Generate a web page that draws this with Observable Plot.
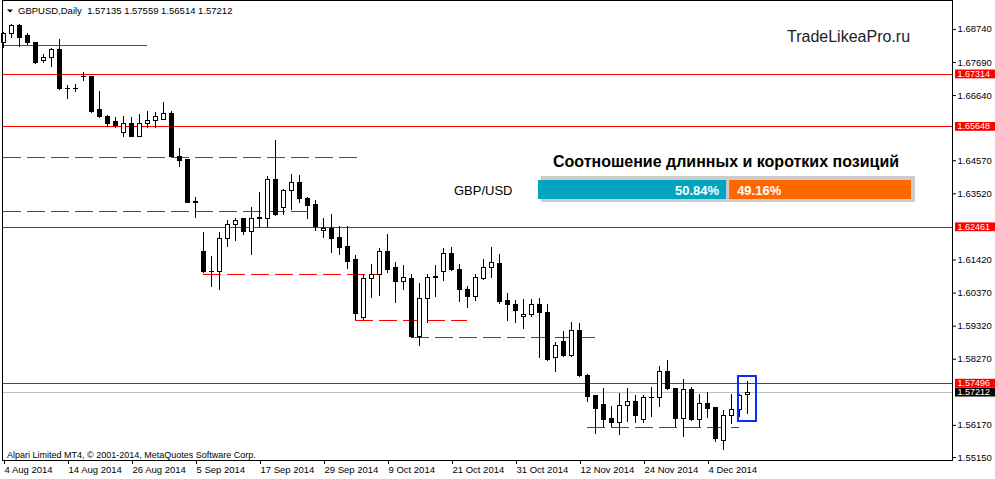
<!DOCTYPE html>
<html><head><meta charset="utf-8">
<script src="https://cdn.jsdelivr.net/npm/d3@7"></script>
<script src="https://cdn.jsdelivr.net/npm/@observablehq/plot@0.6"></script>
<style>
body{margin:0;background:#fff;}
#wrap{position:relative;width:995px;height:479px;overflow:hidden;font-family:"Liberation Sans",Arial,sans-serif;background:#fff;}
#ratio{position:absolute;left:440px;top:165px;}
#main{position:absolute;left:0;top:0;}
</style></head><body><div id="wrap"><div id="main"></div><div id="ratio"></div></div>
<script>
const symbol = "GBPUSD,Daily";
const opens = [1.68293,1.68610,1.68833,1.68515,1.68293,1.67722,1.67848,1.68102,1.66864,1.66833,
1.67230,1.67245,1.66166,1.65944,1.65785,1.65436,1.65753,1.65340,1.65753,1.65848,
1.65880,1.66039,1.64674,1.64579,1.63245,1.61658,1.61023,1.61023,1.62071,1.62515,
1.62737,1.62293,1.62737,1.62737,1.63944,1.63055,1.63595,1.63849,1.63372,1.63150,
1.62325,1.62388,1.62103,1.61817,1.61404,1.59563,1.60801,1.60928,1.61658,1.61150,
1.60706,1.60801,1.58960,1.60166,1.60864,1.61023,1.61626,1.61118,1.60452,1.60261,
1.60801,1.61150,1.61277,1.60103,1.60007,1.59595,1.59658,1.60007,1.59722,1.58293,
1.58801,1.58357,1.59150,1.57753,1.57087,1.56801,1.56388,1.56261,1.56769,1.56896,
1.56325,1.57023,1.57023,1.57880,1.57309,1.56388,1.57277,1.56356,1.56833,1.56706,
1.55658,1.56452,1.56642,1.57135];
const highs = [1.68630,1.68896,1.68896,1.68610,1.68300,1.67944,1.68134,1.68420,1.66960,1.66991,
1.67372,1.67260,1.66769,1.66007,1.65944,1.65975,1.65944,1.66039,1.66134,1.66102,
1.66420,1.66134,1.64960,1.64590,1.63404,1.62293,1.61531,1.62293,1.62674,1.62737,
1.62750,1.63087,1.63563,1.64071,1.65214,1.63658,1.64134,1.64103,1.63404,1.63309,
1.62737,1.62865,1.62484,1.62484,1.61563,1.60960,1.61277,1.61785,1.62230,1.61341,
1.61245,1.60960,1.60674,1.60960,1.61245,1.61785,1.61817,1.61277,1.60579,1.60960,
1.61436,1.61817,1.61595,1.60357,1.60134,1.60166,1.60166,1.60198,1.60007,1.58801,
1.59150,1.59436,1.59404,1.57785,1.57100,1.57341,1.56769,1.57182,1.57341,1.57118,
1.57118,1.57372,1.58039,1.58230,1.57341,1.57626,1.57372,1.57150,1.57214,1.56720,
1.56642,1.57150,1.57150,1.57559];
const lows = [1.68134,1.68452,1.68166,1.68229,1.67640,1.67658,1.67531,1.66801,1.66515,1.66737,
1.67087,1.66071,1.65912,1.65626,1.65595,1.65309,1.65330,1.65309,1.65595,1.65595,
1.65848,1.64660,1.64357,1.63230,1.62737,1.60991,1.60547,1.60452,1.61817,1.62007,
1.62198,1.61563,1.62452,1.62452,1.62801,1.62833,1.62992,1.63214,1.62706,1.62325,
1.62103,1.61626,1.61563,1.61118,1.59499,1.59499,1.60198,1.60261,1.60991,1.60039,
1.60452,1.58928,1.58674,1.59404,1.60230,1.60737,1.61055,1.60071,1.59880,1.60103,
1.60769,1.60833,1.60007,1.59468,1.59404,1.59214,1.59595,1.58293,1.58198,1.57849,
1.58325,1.58325,1.57690,1.56896,1.55880,1.56103,1.56103,1.55849,1.56261,1.56230,
1.56230,1.56420,1.56737,1.57277,1.56103,1.55785,1.56293,1.56103,1.56388,1.55626,
1.55372,1.56198,1.56420,1.56514];
const closes = [1.68610,1.68833,1.68483,1.68293,1.67658,1.67848,1.68102,1.66833,1.66833,1.66850,
1.67245,1.66134,1.65944,1.65753,1.65658,1.65753,1.65340,1.65753,1.65848,1.65944,
1.66039,1.64674,1.64547,1.63245,1.63260,1.61023,1.61040,1.62071,1.62515,1.62642,
1.62293,1.62737,1.62750,1.63944,1.62833,1.63595,1.63849,1.63341,1.63119,1.62452,
1.62388,1.62071,1.61785,1.61372,1.59690,1.60801,1.60928,1.61658,1.61118,1.60706,
1.60833,1.58960,1.60166,1.60864,1.60880,1.61595,1.61087,1.60483,1.60230,1.60864,
1.61150,1.61309,1.60071,1.60007,1.59785,1.59658,1.60007,1.59722,1.58261,1.58674,
1.58357,1.59150,1.57722,1.57055,1.56674,1.56356,1.56261,1.56769,1.56896,1.56483,
1.57023,1.57040,1.57880,1.57309,1.56388,1.57277,1.56325,1.56833,1.56674,1.55722,
1.56483,1.56642,1.57118,1.57212];

const tickIndex = [0,8,16,24,32,40,48,56,64,72,80,88];
const tickLabels = ["4 Aug 2014","14 Aug 2014","26 Aug 2014","5 Sep 2014","17 Sep 2014","29 Sep 2014","9 Oct 2014","21 Oct 2014","31 Oct 2014","12 Nov 2014","24 Nov 2014","4 Dec 2014"];
const yTicks = [1.68740,1.67690,1.66640,1.64570,1.63520,1.61420,1.60370,1.59320,1.58270,1.56170,1.55150];

const levels = [1.67314,1.65648,1.62461,1.57496];
const lastPrice = 1.57212;
const shortPrice = [1.68229], shortFrom = [0], shortTo = [18];
const dashPrice = [1.64664,1.62960,1.60960,1.59499,1.58969,1.56093];
const dashFrom = [0,0,25,44,51,73];
const dashTo = [44.25,38,47,58,74,92];
const boxFrom = [91.91], boxTo = [94.09], boxLow = [1.56283], boxHigh = [1.57722];

const pairs = ["GBP/USD"];
const longPct = [50.84];
const shortPct = [49.16];

const candles = opens.map((o,i)=>({i, o, h: highs[i], l: lows[i], c: closes[i]}));
const bulls = candles.filter(d=>d.c>=d.o), bears = candles.filter(d=>d.c<d.o);
const shortLines = shortPrice.map((p,k)=>({p, a: shortFrom[k], b: shortTo[k]}));
const dashLines = dashPrice.map((p,k)=>({p, a: dashFrom[k], b: dashTo[k]}));
const boxes = boxFrom.map((a,k)=>({a, b: boxTo[k], lo: boxLow[k], hi: boxHigh[k]}));

const font = "Liberation Sans, Arial, sans-serif";
const crisp = {shapeRendering: "crispEdges"};
const chart = Plot.plot({
  width: 995, height: 479,
  marginLeft: 2, marginRight: 43, marginTop: 0, marginBottom: 19,
  x: {domain: [-0.125, 118.625]},
  y: {domain: [1.550547, 1.696578]},
  style: {fontFamily: font, fontSize: "9.5px", color: "#000", background: "#fff", overflow: "visible"},
  marks: [
    Plot.ruleY(levels, {stroke: "#ff0000", ...crisp}),
    Plot.ruleY([lastPrice], {stroke: "#c0c0c0", ...crisp}),
    Plot.ruleY(shortLines, {y: "p", x1: "a", x2: "b", stroke: "#ff0000", ...crisp}),
    Plot.ruleY(dashLines, {y: "p", x1: "a", x2: "b", stroke: "#ff0000", strokeDasharray: "18,6", ...crisp}),
    Plot.ruleX(candles, {x: "i", y1: "l", y2: "h", stroke: "#000", ...crisp}),
    Plot.rect(bears, {x1: d=>d.i-0.25, x2: d=>d.i+0.25, y1: "o", y2: "c", fill: "#000", stroke: "#000", ...crisp}),
    Plot.rect(bulls, {x1: d=>d.i-0.25, x2: d=>d.i+0.25, y1: "o", y2: "c", fill: "#fff", stroke: "#000", ...crisp}),
    Plot.rect(boxes, {x1: "a", x2: "b", y1: "lo", y2: "hi", fill: "none", stroke: "#0a2cff", strokeWidth: 2, ...crisp}),
    Plot.frame({stroke: "#000", ...crisp}),
    Plot.axisY({anchor: "right", ticks: yTicks, tickFormat: d=>d.toFixed(5), tickSize: 3, tickPadding: 2, label: null}),
    Plot.axisX({ticks: tickIndex, tickFormat: d=>tickLabels[tickIndex.indexOf(d)], tickSize: 4, tickPadding: 2, textAnchor: "start", dx: 1, label: null})
  ]
});
document.getElementById("main").appendChild(chart);

const svg = d3.select(chart);
const ys = chart.scale("y");
// price label boxes
const tags = levels.map(p=>({p, bg: "#ff0000"})).concat([{p: lastPrice, bg: "#000"}]);
const tg = svg.append("g").attr("font-family", font).attr("font-size", "9px").attr("text-anchor", "start");
tags.forEach(t=>{
  const yy = ys.apply(t.p);
  tg.append("rect").attr("x", 955).attr("y", yy-4.3).attr("width", 40).attr("height", 8.8).attr("fill", t.bg);
  tg.append("text").attr("x", 957.5).attr("y", yy).attr("dy", "0.35em").attr("fill", "#fff").text(t.p.toFixed(5));
});
// header and annotations
const ann = svg.append("g").attr("font-family", font).attr("text-anchor", "start");
const last = candles[candles.length-1];
ann.append("path").attr("d", "M7,9.5L13,9.5L10,12.5Z").attr("fill", "#000");
ann.append("text").attr("x", 18).attr("y", 13.5).attr("font-size", "9.5px").style("white-space", "pre")
  .text(`${symbol}  ${last.o.toFixed(5)} ${last.h.toFixed(5)} ${last.l.toFixed(5)} ${last.c.toFixed(5)}`);
ann.append("text").attr("x", 787).attr("y", 42).attr("font-size", "16px").attr("fill", "#222").text("TradeLikeaPro.ru");
ann.append("text").attr("x", 7).attr("y", 458).attr("font-size", "9px").text("Alpari Limited MT4, © 2001-2014, MetaQuotes Software Corp.");
ann.append("text").attr("x", 726).attr("y", 167).attr("text-anchor", "middle").attr("font-size", "16px").attr("font-weight", "bold").text("Соотношение длинных и коротких позиций");

// ratio widget
const rows = pairs.map((pair,k)=>({pair, long: longPct[k], short: shortPct[k]}));
const ratio = Plot.plot({
  width: 490, height: 50, marginLeft: 98, marginRight: 19, marginTop: 15, marginBottom: 16,
  x: {domain: [0, 100], axis: null},
  y: {domain: pairs, padding: 0},
  style: {fontFamily: font, fontSize: "13px", color: "#000", background: "transparent", overflow: "visible"},
  marks: [
    Plot.barX(rows, {x1: 0, x2: 100, y: "pair", fill: "#cccccc", dx: 3, insetTop: -4, insetBottom: -3, insetRight: -1}),
    Plot.barX(rows, {x1: 0, x2: "long", y: "pair", fill: "#00a6bf", insetRight: 1.5}),
    Plot.barX(rows, {x1: "long", x2: 100, y: "pair", fill: "#ff6600", insetLeft: 1.5}),
    Plot.text(rows, {x: "long", y: "pair", text: d=>d.long.toFixed(2)+"%", textAnchor: "end", dx: -9, dy: 1, fill: "#fff", fontWeight: "bold", fontSize: 13}),
    Plot.text(rows, {x: "long", y: "pair", text: d=>d.short.toFixed(2)+"%", textAnchor: "start", dx: 9, dy: 1, fill: "#fff", fontWeight: "bold", fontSize: 13}),
    Plot.axisY({tickSize: 0, tickPadding: 26, label: null, fontSize: 13, dy: 1})
  ]
});
document.getElementById("ratio").appendChild(ratio);
</script></body></html>
